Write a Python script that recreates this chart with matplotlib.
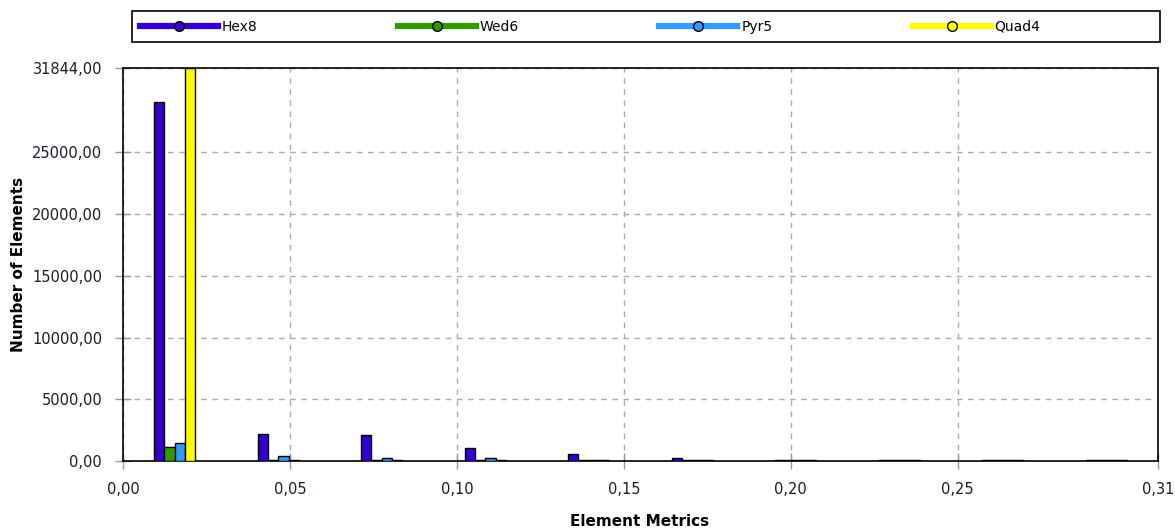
import numpy as np
import matplotlib; matplotlib.use("Agg")
import matplotlib.pyplot as plt
from matplotlib.lines import Line2D
from matplotlib.patches import Rectangle

# bin centres of the element-metric histogram (10 bins, 0 .. 0.31)
bins = [0.0155, 0.0465, 0.0775, 0.1085, 0.1395, 0.1705, 0.2015, 0.2325, 0.2635, 0.2945]
hex8 = [29100, 2160, 2080, 1050, 540, 260, 90, 90, 90, 90]
wed6 = [1130, 80, 70, 60, 60, 60, 80, 80, 80, 80]
pyr5 = [1450, 400, 250, 250, 80, 80, 80, 80, 80, 80]
quad4 = [31844, 90, 80, 80, 80, 80, 80, 80, 80, 80]
series = [("Hex8", hex8, "#3300CC"), ("Wed6", wed6, "#339900"),
          ("Pyr5", pyr5, "#3399FF"), ("Quad4", quad4, "#FFFF00")]

xticks = [0.0, 0.05, 0.10, 0.15, 0.20, 0.25, 0.31]
yticks = [0, 5000, 10000, 15000, 20000, 25000, 31844]

plt.rcParams["font.family"] = ["DejaVu Sans"]
W, H = 1175, 531
fig = plt.figure(figsize=(W / 100, H / 100), dpi=100)
ax = fig.add_axes([123 / W, 1 - 461 / H, 1035 / W, 393 / H])

x = np.array(bins)
w = 0.0031
for i, (name, vals, col) in enumerate(series):
    ax.bar(x + (i - 1.5) * w, vals, w, color=col, edgecolor="black", linewidth=1.0, zorder=3)

ax.set_xlim(0, 0.31)
ax.set_ylim(0, 31844)
ax.set_xticks(xticks)
ax.set_xticklabels([f"{t:.2f}".replace(".", ",") for t in xticks])
ax.set_yticks(yticks)
ax.set_yticklabels([f"{t:.2f}".replace(".", ",") for t in yticks])
ax.tick_params(direction="inout", length=12, width=1, color="#999999",
               labelsize=10.5, labelcolor="#1a1a2a", pad=9)
ax.grid(True, color="#aaaaaa", linestyle=(0, (4, 4)), linewidth=1, zorder=0)
for s in ax.spines.values():
    s.set_color("black"); s.set_linewidth(1.2)

# axis titles placed where the reference has them
fig.text(640 / W, 1 - 521 / H, "Element Metrics", fontsize=11, fontweight="bold",
         ha="center", va="center")
fig.text(19 / W, 1 - 264 / H, "Number of Elements", fontsize=11, fontweight="bold",
         ha="center", va="center", rotation=90)

# legend strip above the plot
fig.patches.append(Rectangle((132 / W, 1 - 42 / H), 1028 / W, 31 / H, transform=fig.transFigure,
                             facecolor="white", edgecolor="black", linewidth=1.2))
handles = [Line2D([0], [0], color=col, lw=4.5, marker="o", ms=7,
                  markerfacecolor=col, markeredgecolor="black") for _, _, col in series]
fig.legend(handles, [s[0] for s in series], loc="center left", ncol=4,
           bbox_to_anchor=(140 / W, 1 - 27 / H), frameon=False, handlelength=5.6,
           handletextpad=0.3, columnspacing=10.1, borderpad=0, borderaxespad=0, fontsize=10)

fig.savefig("out.png", dpi=100)
